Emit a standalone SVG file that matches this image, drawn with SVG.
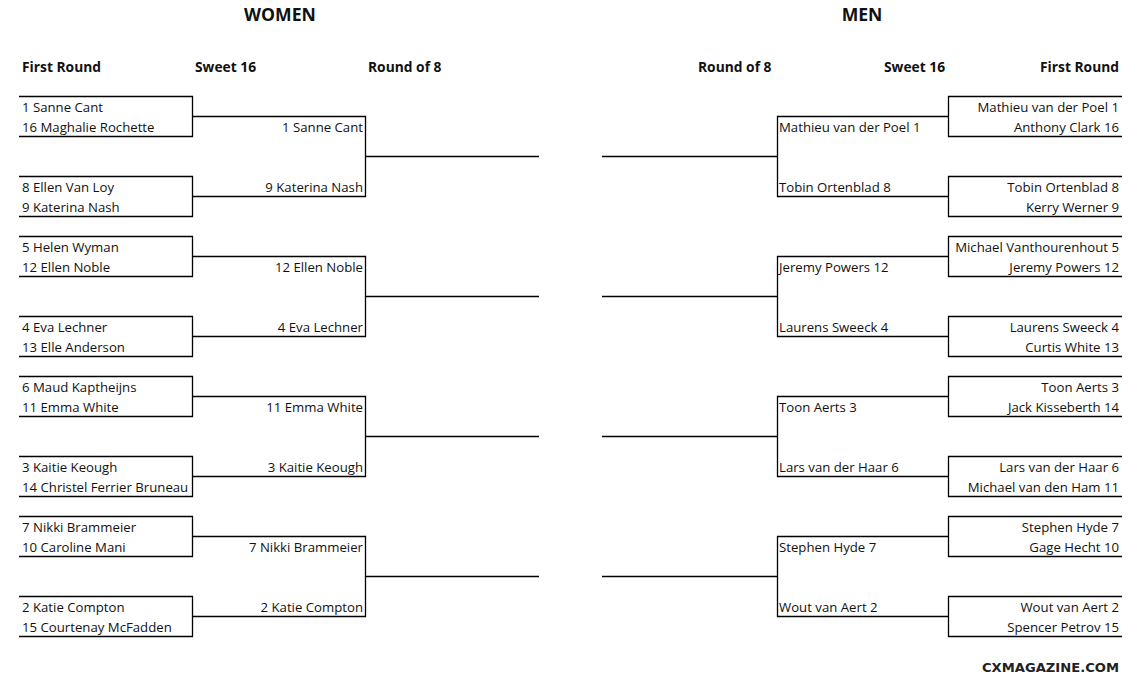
<svg xmlns="http://www.w3.org/2000/svg" width="1141" height="682" viewBox="0 0 1141 682">
<style>
.t{font-family:"Open Sans","Noto Sans",sans-serif;font-size:13.2px;fill:#111}
.r{text-anchor:end}
.h{font-family:"Open Sans","Noto Sans",sans-serif;font-size:13.8px;font-weight:bold;fill:#111}
.ti{font-family:"Open Sans","Noto Sans",sans-serif;font-size:17.6px;font-weight:bold;fill:#111;text-anchor:middle}
.ln{fill:none;stroke:#000;stroke-width:1.3}
.wm{font-family:"DejaVu Sans Condensed","DejaVu Sans",sans-serif;font-size:13px;font-weight:bold;fill:#222}
</style>
<rect width="1141" height="682" fill="#fff"/>
<g id="titles">
<text class="ti" x="280" y="21">WOMEN</text>
<text class="ti" x="862" y="21">MEN</text>
<text class="h" x="22" y="72">First Round</text>
<text class="h" x="195" y="72">Sweet 16</text>
<text class="h" x="368" y="72">Round of 8</text>
<text class="h" x="698" y="72">Round of 8</text>
<text class="h" x="884" y="72">Sweet 16</text>
<text class="h r" x="1119" y="72">First Round</text>
</g>
<g id="connectors">
<path class="ln" d="M19,96.5H192.5V136.5H19M19,176.5H192.5V216.5H19M19,236.5H192.5V276.5H19M19,316.5H192.5V356.5H19M19,376.5H192.5V416.5H19M19,456.5H192.5V496.5H19M19,516.5H192.5V556.5H19M19,596.5H192.5V636.5H19"/>
<path class="ln" d="M192.5,116.5H365.5V196.5H192.5M365.5,156.5H539M192.5,256.5H365.5V336.5H192.5M365.5,296.5H539M192.5,396.5H365.5V476.5H192.5M365.5,436.5H539M192.5,536.5H365.5V616.5H192.5M365.5,576.5H539"/>
<path class="ln" d="M1122,96.5H948.5V136.5H1122M1122,176.5H948.5V216.5H1122M1122,236.5H948.5V276.5H1122M1122,316.5H948.5V356.5H1122M1122,376.5H948.5V416.5H1122M1122,456.5H948.5V496.5H1122M1122,516.5H948.5V556.5H1122M1122,596.5H948.5V636.5H1122"/>
<path class="ln" d="M948.5,116.5H777.5V196.5H948.5M777.5,156.5H602M948.5,256.5H777.5V336.5H948.5M777.5,296.5H602M948.5,396.5H777.5V476.5H948.5M777.5,436.5H602M948.5,536.5H777.5V616.5H948.5M777.5,576.5H602"/>
</g>
<g id="w-fr-1"><text class="t" x="22" y="112">1 Sanne Cant</text><text class="t" x="22" y="132">16 Maghalie Rochette</text></g>
<g id="w-fr-2"><text class="t" x="22" y="192">8 Ellen Van Loy</text><text class="t" x="22" y="212">9 Katerina Nash</text></g>
<g id="w-fr-3"><text class="t" x="22" y="252">5 Helen Wyman</text><text class="t" x="22" y="272">12 Ellen Noble</text></g>
<g id="w-fr-4"><text class="t" x="22" y="332">4 Eva Lechner</text><text class="t" x="22" y="352">13 Elle Anderson</text></g>
<g id="w-fr-5"><text class="t" x="22" y="392">6 Maud Kaptheijns</text><text class="t" x="22" y="412">11 Emma White</text></g>
<g id="w-fr-6"><text class="t" x="22" y="472">3 Kaitie Keough</text><text class="t" x="22" y="492">14 Christel Ferrier Bruneau</text></g>
<g id="w-fr-7"><text class="t" x="22" y="532">7 Nikki Brammeier</text><text class="t" x="22" y="552">10 Caroline Mani</text></g>
<g id="w-fr-8"><text class="t" x="22" y="612">2 Katie Compton</text><text class="t" x="22" y="632">15 Courtenay McFadden</text></g>
<g id="w-s16-1"><text class="t r" x="363" y="132">1 Sanne Cant</text><text class="t r" x="363" y="192">9 Katerina Nash</text></g>
<g id="w-s16-2"><text class="t r" x="363" y="272">12 Ellen Noble</text><text class="t r" x="363" y="332">4 Eva Lechner</text></g>
<g id="w-s16-3"><text class="t r" x="363" y="412">11 Emma White</text><text class="t r" x="363" y="472">3 Kaitie Keough</text></g>
<g id="w-s16-4"><text class="t r" x="363" y="552">7 Nikki Brammeier</text><text class="t r" x="363" y="612">2 Katie Compton</text></g>
<g id="m-fr-1"><text class="t r" x="1119" y="112">Mathieu van der Poel 1</text><text class="t r" x="1119" y="132">Anthony Clark 16</text></g>
<g id="m-fr-2"><text class="t r" x="1119" y="192">Tobin Ortenblad 8</text><text class="t r" x="1119" y="212">Kerry Werner 9</text></g>
<g id="m-fr-3"><text class="t r" x="1119" y="252">Michael Vanthourenhout 5</text><text class="t r" x="1119" y="272">Jeremy Powers 12</text></g>
<g id="m-fr-4"><text class="t r" x="1119" y="332">Laurens Sweeck 4</text><text class="t r" x="1119" y="352">Curtis White 13</text></g>
<g id="m-fr-5"><text class="t r" x="1119" y="392">Toon Aerts 3</text><text class="t r" x="1119" y="412">Jack Kisseberth 14</text></g>
<g id="m-fr-6"><text class="t r" x="1119" y="472">Lars van der Haar 6</text><text class="t r" x="1119" y="492">Michael van den Ham 11</text></g>
<g id="m-fr-7"><text class="t r" x="1119" y="532">Stephen Hyde 7</text><text class="t r" x="1119" y="552">Gage Hecht 10</text></g>
<g id="m-fr-8"><text class="t r" x="1119" y="612">Wout van Aert 2</text><text class="t r" x="1119" y="632">Spencer Petrov 15</text></g>
<g id="m-s16-1"><text class="t" x="779" y="132">Mathieu van der Poel 1</text><text class="t" x="779" y="192">Tobin Ortenblad 8</text></g>
<g id="m-s16-2"><text class="t" x="779" y="272">Jeremy Powers 12</text><text class="t" x="779" y="332">Laurens Sweeck 4</text></g>
<g id="m-s16-3"><text class="t" x="779" y="412">Toon Aerts 3</text><text class="t" x="779" y="472">Lars van der Haar 6</text></g>
<g id="m-s16-4"><text class="t" x="779" y="552">Stephen Hyde 7</text><text class="t" x="779" y="612">Wout van Aert 2</text></g>
<g id="watermark"><text class="wm" x="982" y="672" textLength="137" lengthAdjust="spacingAndGlyphs">CXMAGAZINE.COM</text></g>
</svg>
